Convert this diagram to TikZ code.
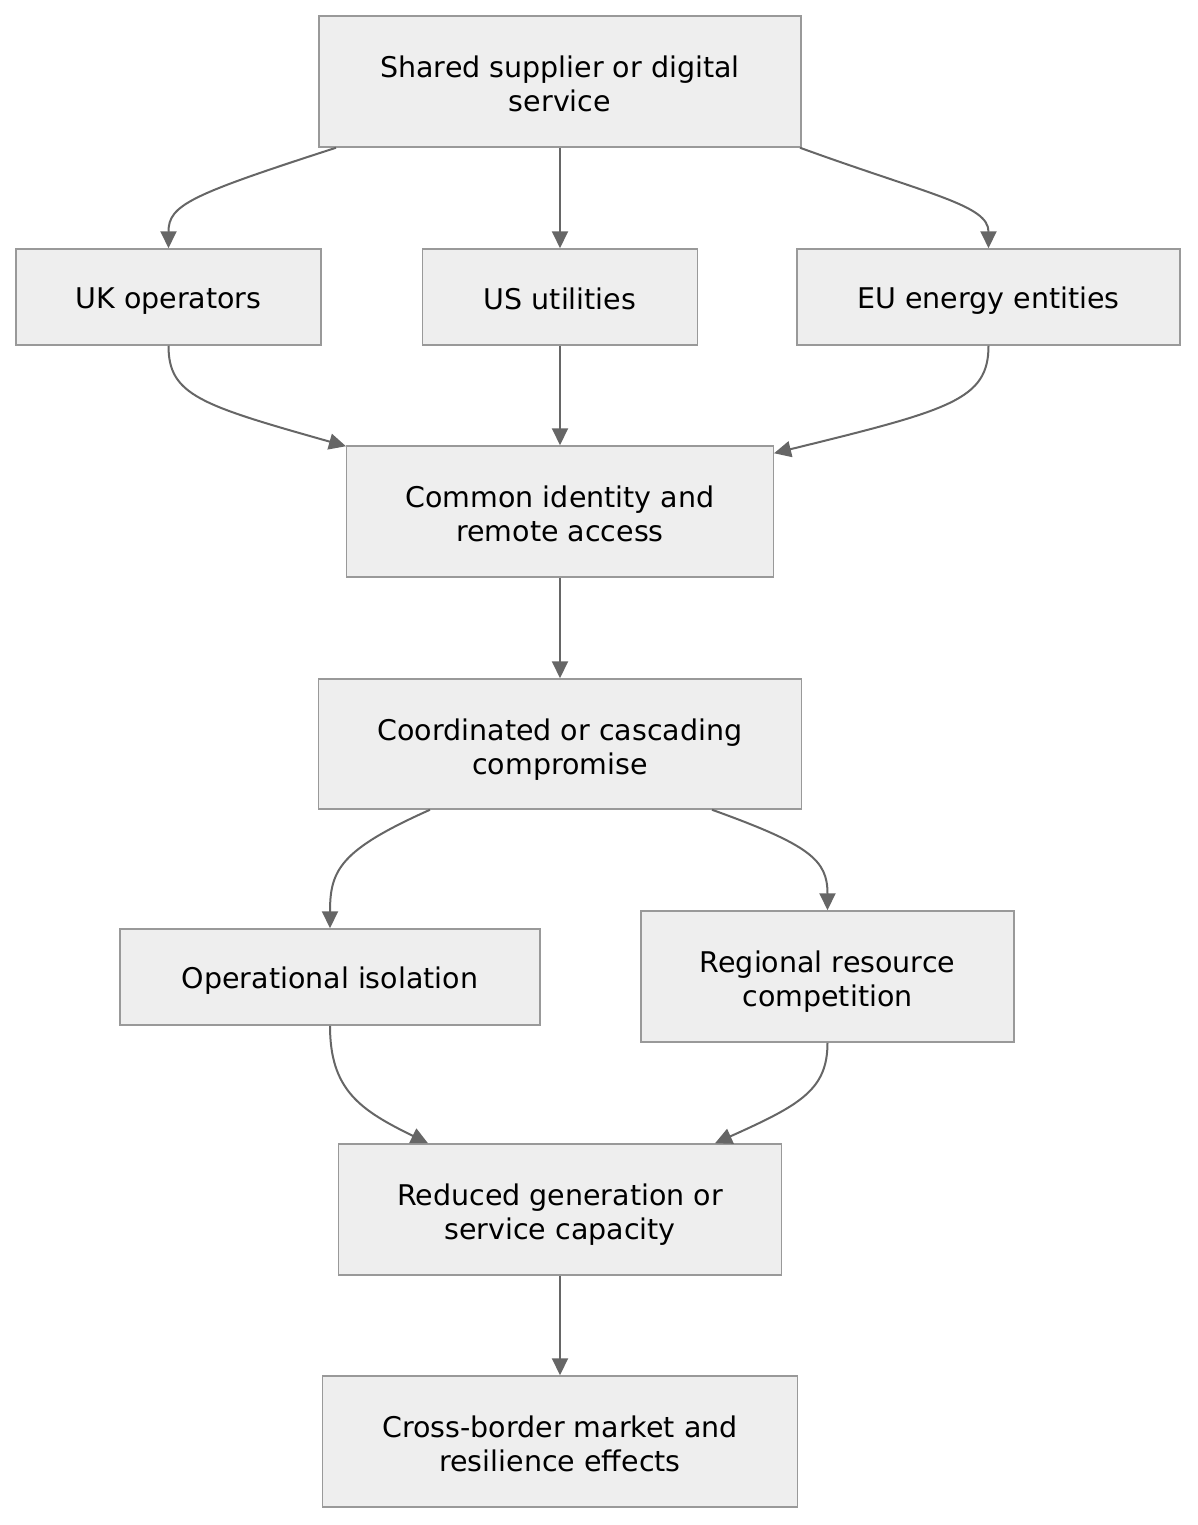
\documentclass[tikz,border=0pt]{standalone}
\usepackage{fontspec}
\setmainfont{DejaVu Sans}
\usetikzlibrary{arrows.meta}
\definecolor{boxfill}{HTML}{EEEEEE}
\definecolor{boxline}{HTML}{999999}
\definecolor{arrowc}{HTML}{666666}
\newcommand{\mystrut}{\rule[-3.5pt]{0pt}{32.5pt}}
\newcommand{\topstrut}{\rule{0pt}{33.2pt}}
\newcommand{\botstrut}{\rule[-7pt]{0pt}{7pt}}
\begin{document}
\begin{tikzpicture}[x=1pt,y=-1pt,
  basebox/.style={draw=boxline,fill=boxfill,line width=1.5pt,align=center,inner sep=0pt,
    font=\fontsize{28.5}{34}\selectfont},
  box/.style={basebox,execute at end node=\mystrut},
  boxtwo/.style={basebox,execute at end node=\botstrut},
  conn/.style={draw=arrowc,line width=2pt,-{Triangle[length=17pt,width=16pt]}}]
\useasboundingbox (0,0) rectangle (1197,1525);
\node[boxtwo,minimum width=482pt,minimum height=131pt] (shared) at (560,81.5) {\topstrut Shared supplier or digital\\service};
\node[box,minimum width=305pt,minimum height=96pt] (uk) at (168.5,297) {UK operators};
\node[box,minimum width=275pt,minimum height=96pt] (us) at (560,297) {US utilities};
\node[box,minimum width=383pt,minimum height=96pt] (eu) at (988.5,297) {EU energy entities};
\node[boxtwo,minimum width=427pt,minimum height=131pt] (common) at (560,511.5) {\topstrut Common identity and\\remote access};
\node[boxtwo,minimum width=483pt,minimum height=130pt] (coord) at (560,744) {\topstrut Coordinated or cascading\\compromise};
\node[box,minimum width=420pt,minimum height=96pt] (oper) at (330,977) {Operational isolation};
\node[boxtwo,minimum width=373pt,minimum height=131pt] (reg) at (827.5,976.5) {\topstrut Regional resource\\competition};
\node[boxtwo,minimum width=443pt,minimum height=131pt] (red) at (560,1209.5) {\topstrut Reduced generation or\\service capacity};
\node[boxtwo,minimum width=475pt,minimum height=131pt] (cross) at (560,1441.5) {\topstrut Cross-border market and\\resilience effects};

\draw[conn] ([xshift=-224pt]shared.south) .. controls (190,195) and (168.5,205) .. (uk.north);
\draw[conn] (shared.south) -- (us.north);
\draw[conn] ([xshift=240pt]shared.south) .. controls (930,195) and (988.5,205) .. (eu.north);
\draw[conn] (uk.south) .. controls (168.5,395) and (200,405) .. ([xshift=-214pt,yshift=-1pt]common.north);
\draw[conn] (us.south) -- (common.north);
\draw[conn] (eu.south) .. controls (988.5,400) and (950,410) .. ([xshift=214pt,yshift=-8pt]common.north);
\draw[conn] (common.south) -- (coord.north);
\draw[conn] ([xshift=-130pt]coord.south) .. controls (340,850) and (330,870) .. (oper.north);
\draw[conn] ([xshift=152pt]coord.south) .. controls (810,845) and (827.5,860) .. (reg.north);
\draw[conn] (oper.south) .. controls (330,1090) and (360,1110) .. ([xshift=-132pt]red.north);
\draw[conn] (reg.south) .. controls (827.5,1090) and (800,1105) .. ([xshift=155pt]red.north);
\draw[conn] (red.south) -- (cross.north);
\end{tikzpicture}
\end{document}
